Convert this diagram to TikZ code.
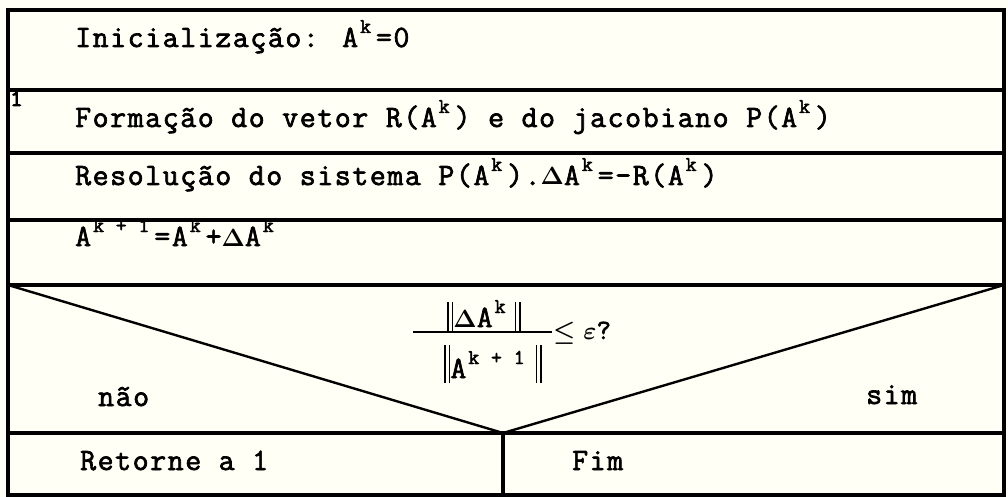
\documentclass[tikz,border=0pt]{standalone}
\usepackage{fontspec}
\newfontfamily\dm[FakeBold=2.2,LetterSpace=5]{Latin Modern Mono}
\newfontfamily\dmb[FakeBold=3.5]{Latin Modern Mono}
\newcommand\spx[1]{\hspace{2pt}\raisebox{14pt}{\fontsize{21}{21}\selectfont #1}\hspace{5pt}}
\newcommand\dlt{{\boldmath$\Delta$}}
\newcommand\nbar[2]{\rule[-#1]{1.8pt}{#2}\hspace{2.4pt}\rule[-#1]{1.8pt}{#2}}
\definecolor{paper}{RGB}{255,255,246}
\begin{document}
\begin{tikzpicture}[x=1pt,y=-1pt,
  txt/.style={inner sep=0pt,anchor=base west,font=\dm\fontsize{31}{31}\selectfont},
  frame/.style={line width=3.2pt,line cap=rect},
  diag/.style={line width=2.4pt}]
\path[fill=paper,use as bounding box] (0,0) rectangle (1008,497);
% coordinates
\coordinate (TL) at (8,10);
\coordinate (TR) at (1004,10);
\coordinate (BL) at (8,495);
\coordinate (BR) at (1004,495);
\coordinate (L1) at (8,90);   \coordinate (R1) at (1004,90);
\coordinate (L2) at (8,153);  \coordinate (R2) at (1004,153);
\coordinate (L3) at (8,220);  \coordinate (R3) at (1004,220);
\coordinate (L4) at (8,285);  \coordinate (R4) at (1004,285);
\coordinate (L5) at (8,433);  \coordinate (R5) at (1004,433);
\coordinate (M5) at (503,433);
\coordinate (MB) at (503,495);
% frame
\draw[frame] (TL) rectangle (BR);
\draw[frame] (L1) -- (R1);
\draw[frame] (L2) -- (R2);
\draw[frame] (L3) -- (R3);
\draw[frame] (L4) -- (R4);
\draw[frame] (L5) -- (R5);
\draw[frame] (M5) -- (MB);
\draw[diag] (L4) -- (M5) -- (R4);
% texts
\node[txt] (init) at (75,47) {Inicialização: A\spx{k}=0};
\node[txt,font=\dmb\fontsize{24}{24}\selectfont] (lab1) at (10,106) {1};
\node[txt] (form) at (75,127) {Formação do vetor R(A\spx{k}) e do jacobiano P(A\spx{k})};
\node[txt] (reso) at (75,185) {Resolução do sistema P(A\spx{k}).\dlt A\spx{k}=-R(A\spx{k})};
\node[txt] (upd) at (75,246) {A\spx{k + 1}=A\spx{k}+\dlt A\spx{k}};
% decision
\node[txt,anchor=base] (num) at (484,327) {\nbar{5pt}{30pt}\dlt A\spx{k}\hspace{4pt}\nbar{5pt}{30pt}};
\node[txt,anchor=base] (den) at (493,378) {\nbar{5pt}{38pt}A\spx{k + 1}\hspace{6pt}\nbar{5pt}{38pt}};
\coordinate (fl) at (413,332);
\coordinate (fr) at (552,332);
\draw[line width=1.6pt] (fl) -- (fr);
\node[txt,font=\dm\fontsize{28}{28}\selectfont] (leq) at (553,339) {{\boldmath$\leq\varepsilon$}?};
\node[txt] (nao) at (98,406) {não};
\node[txt] (sim) at (866,404) {sim};
\node[txt] (ret) at (80,470) {Retorne a 1};
\node[txt] (fim) at (572,470) {Fim};
\end{tikzpicture}
\end{document}
